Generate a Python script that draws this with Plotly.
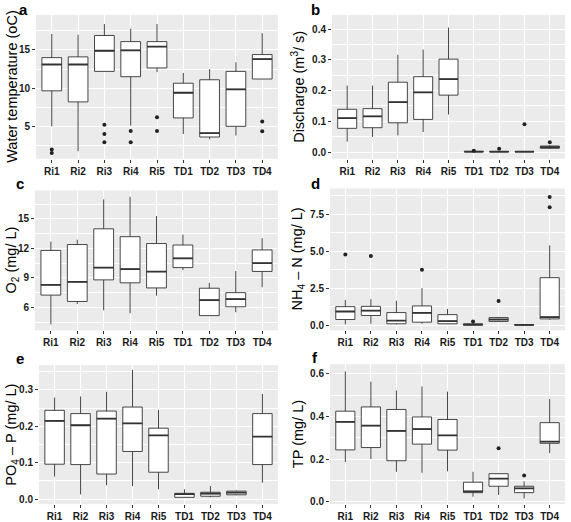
import plotly.graph_objects as go

sites = ["Ri1", "Ri2", "Ri3", "Ri4", "Ri5", "TD1", "TD2", "TD3", "TD4"]

# Panel a: water temperature (oC)
temp_low = [5.0, 1.74, 12.2, 5.1, 12.1, 4.0, 3.3, 3.8, 11.2]
temp_q1 = [9.65, 8.2, 12.2, 11.5, 12.65, 6.1, 3.6, 5.0, 11.2]
temp_med = [13.1, 13.1, 14.9, 14.96, 15.45, 9.4, 4.1, 9.85, 13.8]
temp_q3 = [14.0, 14.1, 16.9, 16.1, 16.1, 10.65, 11.1, 12.2, 14.4]
temp_high = [17.1, 17.0, 18.4, 17.8, 18.4, 12.0, 12.5, 13.4, 17.2]
temp_out_x = ["Ri1", "Ri1", "Ri3", "Ri3", "Ri3", "Ri4", "Ri4", "Ri5", "Ri5", "TD4", "TD4"]
temp_out_y = [1.96, 1.52, 5.2, 4.0, 2.9, 4.4, 2.9, 6.2, 4.4, 5.65, 4.35]

# Panel b: discharge (m3/s)
q_low = [0.034, 0.049, 0.054, 0.065, 0.122, 0.0, 0.0, 0.0, 0.010]
q_q1 = [0.077, 0.079, 0.095, 0.106, 0.185, 0.0005, 0.0005, 0.0005, 0.012]
q_med = [0.110, 0.116, 0.162, 0.194, 0.237, 0.001, 0.001, 0.001, 0.016]
q_q3 = [0.139, 0.141, 0.227, 0.245, 0.302, 0.002, 0.0015, 0.0015, 0.0195]
q_high = [0.216, 0.216, 0.316, 0.333, 0.405, 0.003, 0.002, 0.002, 0.022]
q_out_x = ["TD1", "TD2", "TD3", "TD4"]
q_out_y = [0.004, 0.011, 0.090, 0.032]

# Panel c: O2 (mg/L)
o2_low = [4.26, 6.35, 5.7, 5.4, 7.2, 9.8, 5.16, 5.5, 8.05]
o2_q1 = [7.25, 6.6, 8.8, 8.5, 7.98, 10.05, 5.16, 6.06, 9.66]
o2_med = [8.3, 8.6, 10.05, 9.9, 9.65, 11.0, 6.74, 6.85, 10.5]
o2_q3 = [11.8, 12.4, 14.0, 13.2, 12.5, 12.35, 7.95, 7.5, 11.85]
o2_high = [12.7, 12.9, 17.0, 17.25, 15.3, 13.4, 8.5, 9.7, 13.05]
o2_out_x = []
o2_out_y = []

# Panel d: NH4-N (mg/L)
nh4_low = [0.05, 0.09, 0.04, 0.09, 0.07, 0.0, 0.22, 0.0, 0.36]
nh4_q1 = [0.38, 0.65, 0.09, 0.2, 0.09, 0.0, 0.25, 0.01, 0.42]
nh4_med = [0.92, 0.98, 0.31, 0.83, 0.27, 0.03, 0.38, 0.02, 0.54]
nh4_q3 = [1.25, 1.27, 0.85, 1.3, 0.71, 0.09, 0.51, 0.03, 3.21]
nh4_high = [1.7, 1.76, 1.65, 2.5, 1.09, 0.15, 0.55, 0.04, 5.4]
nh4_out_x = ["Ri1", "Ri2", "Ri4", "TD1", "TD2", "TD4", "TD4"]
nh4_out_y = [4.78, 4.67, 3.75, 0.25, 1.63, 8.66, 7.97]

# Panel e: PO4-P (mg/L)
po4_low = [0.062, 0.013, 0.038, 0.036, 0.027, 0.004, 0.005, 0.011, 0.045]
po4_q1 = [0.096, 0.095, 0.069, 0.131, 0.074, 0.005, 0.008, 0.012, 0.095]
po4_med = [0.215, 0.203, 0.221, 0.208, 0.175, 0.014, 0.015, 0.018, 0.172]
po4_q3 = [0.244, 0.235, 0.242, 0.253, 0.195, 0.016, 0.019, 0.022, 0.235]
po4_high = [0.279, 0.282, 0.295, 0.355, 0.245, 0.027, 0.036, 0.024, 0.289]
po4_out_x = []
po4_out_y = []

# Panel f: TP (mg/L)
tp_low = [0.186, 0.200, 0.140, 0.135, 0.142, 0.023, 0.031, 0.014, 0.228]
tp_q1 = [0.243, 0.254, 0.192, 0.270, 0.242, 0.042, 0.072, 0.042, 0.274]
tp_med = [0.375, 0.357, 0.332, 0.341, 0.311, 0.048, 0.108, 0.062, 0.282]
tp_q3 = [0.425, 0.445, 0.433, 0.398, 0.386, 0.091, 0.131, 0.072, 0.371]
tp_high = [0.612, 0.564, 0.522, 0.541, 0.517, 0.140, 0.133, 0.095, 0.482]
tp_out_x = ["TD2", "TD3"]
tp_out_y = [0.251, 0.123]

W, H = 571, 522
LINE = "#333333"
FONT = "Liberation Sans, Arial, sans-serif"

panels = [
    dict(letter="a", title="Water temperature (oC)", low=temp_low, q1=temp_q1, med=temp_med,
         q3=temp_q3, high=temp_high, ox=temp_out_x, oy=temp_out_y,
         px=(36, 278), py=(15, 160), yr=[0.75, 19.6], dt=5, mdt=2.5, fmt="d", tx=12, lx=23, ly=10),
    dict(letter="b", title="Discharge (m<sup>3</sup>/ s)", low=q_low, q1=q_q1, med=q_med,
         q3=q_q3, high=q_high, ox=q_out_x, oy=q_out_y,
         px=(332, 565), py=(15, 160), yr=[-0.022, 0.446], dt=0.1, mdt=0.05, fmt=".1f", tx=298, lx=315, ly=10),
    dict(letter="c", title="O<sub>2</sub> (mg/ L)", low=o2_low, q1=o2_q1, med=o2_med,
         q3=o2_q3, high=o2_high, ox=o2_out_x, oy=o2_out_y,
         px=(35, 278), py=(192, 333), yr=[3.65, 17.9], dt=3, mdt=1.5, fmt="d", tx=12, lx=20, ly=185),
    dict(letter="d", title="NH<sub>4</sub> \u2013 N (mg/ L)", low=nh4_low, q1=nh4_q1, med=nh4_med,
         q3=nh4_q3, high=nh4_high, ox=nh4_out_x, oy=nh4_out_y,
         px=(330, 565), py=(190, 333), yr=[-0.36, 9.24], dt=2.5, mdt=1.25, fmt=".1f", tx=298, lx=315, ly=185),
    dict(letter="e", title="PO<sub>4</sub> \u2013 P (mg/ L)", low=po4_low, q1=po4_q1, med=po4_med,
         q3=po4_q3, high=po4_high, ox=po4_out_x, oy=po4_out_y,
         px=(39, 278), py=(368, 508), yr=[-0.0136, 0.368], dt=0.1, mdt=0.05, fmt=".1f", tx=12, lx=20, ly=361),
    dict(letter="f", title="TP (mg/ L)", low=tp_low, q1=tp_q1, med=tp_med,
         q3=tp_q3, high=tp_high, ox=tp_out_x, oy=tp_out_y,
         px=(330, 565), py=(367, 508), yr=[-0.012, 0.646], dt=0.2, mdt=0.1, fmt=".1f", tx=298, lx=315, ly=360),
]

fig = go.Figure()
annotations = []
layout = {}
BW = 0.75
xpos = list(range(len(sites)))

for k, p in enumerate(panels):
    n = "" if k == 0 else str(k + 1)
    xa, ya = "x" + n, "y" + n
    fig.add_trace(go.Box(
        x=xpos, q1=p["q1"], median=p["med"], q3=p["q3"],
        lowerfence=p["low"], upperfence=p["high"],
        width=BW, whiskerwidth=0, fillcolor="white",
        line=dict(color=LINE, width=0.9), boxpoints=False,
        xaxis=xa, yaxis=ya, showlegend=False, hoverinfo="skip"))
    # thicker median lines (ggplot style)
    mx, my = [], []
    for i, m in zip(xpos, p["med"]):
        mx += [i - BW / 2, i + BW / 2, None]
        my += [m, m, None]
    fig.add_trace(go.Scatter(x=mx, y=my, mode="lines", line=dict(color=LINE, width=1.8),
                             xaxis=xa, yaxis=ya, showlegend=False, hoverinfo="skip"))
    if p["ox"]:
        fig.add_trace(go.Scatter(x=[sites.index(s) for s in p["ox"]], y=p["oy"], mode="markers",
                                 marker=dict(color="#222222", size=4),
                                 xaxis=xa, yaxis=ya, showlegend=False, hoverinfo="skip"))
    x0, x1 = p["px"]
    y0, y1 = p["py"]
    layout["xaxis" + n] = dict(
        domain=[x0 / W, x1 / W], anchor=ya, range=[-0.6, len(sites) - 0.4],
        tickvals=xpos, ticktext=sites, showgrid=True, gridcolor="white", gridwidth=1.1,
        zeroline=False, ticks="outside", ticklen=3, tickcolor=LINE, tickwidth=1,
        tickfont=dict(family=FONT, size=10, color="#1a1a1a", weight="bold"), fixedrange=True)
    layout["yaxis" + n] = dict(
        domain=[1 - y1 / H, 1 - y0 / H], anchor=xa, range=p["yr"],
        tick0=0, dtick=p["dt"], tickformat=p["fmt"], showgrid=True, gridcolor="white", gridwidth=1.1,
        minor=dict(showgrid=True, gridcolor="white", gridwidth=0.5, tick0=0, dtick=p["mdt"]),
        zeroline=False, ticks="outside", ticklen=3, tickcolor=LINE, tickwidth=1,
        tickfont=dict(family=FONT, size=10, color="#1a1a1a", weight="bold"), fixedrange=True)
    annotations.append(dict(
        text=p["title"], xref="paper", yref="paper", x=p["tx"] / W, y=1 - (y0 + y1) / 2 / H,
        xanchor="center", yanchor="middle", textangle=-90, showarrow=False,
        font=dict(family=FONT, size=14.5, color="black")))
    annotations.append(dict(
        text="<b>" + p["letter"] + "</b>", xref="paper", yref="paper", x=p["lx"] / W, y=1 - p["ly"] / H,
        xanchor="center", yanchor="middle", showarrow=False,
        font=dict(family=FONT, size=15, color="black")))

fig.update_layout(
    width=W, height=H, margin=dict(l=0, r=0, t=0, b=0),
    paper_bgcolor="white", plot_bgcolor="#EBEBEB",
    annotations=annotations, showlegend=False, **layout)

fig.write_html("out.html", config={"displayModeBar": False},
               post_script="document.body.style.margin='0';document.body.style.overflow='hidden';")
